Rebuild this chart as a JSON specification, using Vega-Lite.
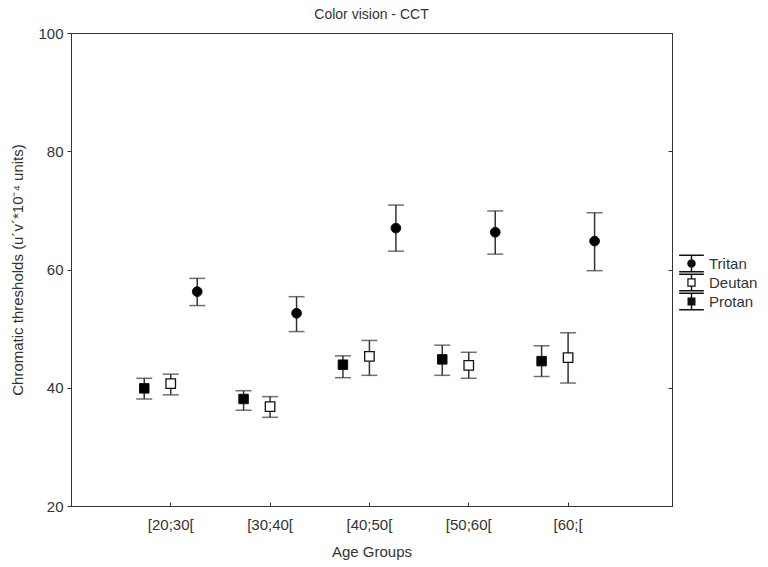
{
  "$schema": "https://vega.github.io/schema/vega-lite/v6.json",
  "width": 601,
  "height": 473,
  "autosize": {"type": "none"},
  "padding": {"left": 71, "top": 33, "right": 96, "bottom": 61},
  "background": "white",
  "title": {"text": "Color vision - CCT", "fontSize": 14, "fontWeight": "normal", "font": "Liberation Sans", "color": "#333", "offset": 4, "anchor": "middle"},
  "config": {
    "view": {"stroke": "#333", "strokeWidth": 1},
    "font": "Liberation Sans",
    "axis": {"grid": false, "domainColor": "#333", "tickColor": "#333", "labelColor": "#333", "titleColor": "#333", "labelFontSize": 15, "titleFontSize": 15, "titleFontWeight": "normal", "labelFont": "Liberation Sans", "titleFont": "Liberation Sans"}
  },
  "data": {"values": [
    {"group": "[20;30[", "type": "Protan", "mean": 39.9, "lo": 38.1, "hi": 41.6},
    {"group": "[20;30[", "type": "Deutan", "mean": 40.7, "lo": 38.8, "hi": 42.3},
    {"group": "[20;30[", "type": "Tritan", "mean": 56.25, "lo": 53.9, "hi": 58.5},
    {"group": "[30;40[", "type": "Protan", "mean": 38.1, "lo": 36.2, "hi": 39.5},
    {"group": "[30;40[", "type": "Deutan", "mean": 36.8, "lo": 35.0, "hi": 38.5},
    {"group": "[30;40[", "type": "Tritan", "mean": 52.6, "lo": 49.5, "hi": 55.4},
    {"group": "[40;50[", "type": "Protan", "mean": 43.9, "lo": 41.7, "hi": 45.4},
    {"group": "[40;50[", "type": "Deutan", "mean": 45.3, "lo": 42.1, "hi": 48.0},
    {"group": "[40;50[", "type": "Tritan", "mean": 67.0, "lo": 63.1, "hi": 70.9},
    {"group": "[50;60[", "type": "Protan", "mean": 44.8, "lo": 42.1, "hi": 47.2},
    {"group": "[50;60[", "type": "Deutan", "mean": 43.8, "lo": 41.6, "hi": 46.0},
    {"group": "[50;60[", "type": "Tritan", "mean": 66.3, "lo": 62.6, "hi": 69.9},
    {"group": "[60;[", "type": "Protan", "mean": 44.5, "lo": 41.9, "hi": 47.1},
    {"group": "[60;[", "type": "Deutan", "mean": 45.1, "lo": 40.8, "hi": 49.3},
    {"group": "[60;[", "type": "Tritan", "mean": 64.8, "lo": 59.8, "hi": 69.6}
  ]},
  "encoding": {
    "x": {"field": "group", "type": "nominal", "sort": ["[20;30[", "[30;40[", "[40;50[", "[50;60[", "[60;["],
      "scale": {"paddingInner": 0, "paddingOuter": 0.525, "align": 0.48},
      "axis": {"title": "Age Groups", "labelAngle": 0, "tickSize": -4, "labelPadding": 15, "titlePadding": 12}},
    "xOffset": {"field": "type", "type": "nominal", "sort": ["Protan", "Deutan", "Tritan"],
      "scale": {"paddingInner": 0, "paddingOuter": 0.375}}
  },
  "layer": [
    {"mark": {"type": "rule", "stroke": "#333", "strokeWidth": 1.5},
     "encoding": {
       "y": {"field": "lo", "type": "quantitative", "scale": {"domain": [20, 100]},
         "axis": {"orient": "left", "values": [20, 40, 60, 80, 100], "tickSize": 4, "labelPadding": 4, "title": "Chromatic thresholds (u´v´*10⁻⁴ units)", "titlePadding": 12}},
       "y2": {"field": "hi"}}},
    {"mark": {"type": "tick", "orient": "horizontal", "size": 16, "thickness": 1.5, "color": "#333"},
     "encoding": {"y": {"field": "hi", "type": "quantitative", "axis": null}}},
    {"mark": {"type": "tick", "orient": "horizontal", "size": 16, "thickness": 1.5, "color": "#333"},
     "encoding": {"y": {"field": "lo", "type": "quantitative", "axis": null}}},
    {"transform": [{"filter": "datum.type === 'Tritan'"}],
     "mark": {"type": "point", "shape": "circle", "filled": true, "fill": "#000", "size": 95, "stroke": "#111", "strokeWidth": 1, "opacity": 1},
     "encoding": {
       "y": {"field": "mean", "type": "quantitative",
         "axis": {"orient": "right", "values": [20, 40, 60, 80, 100], "tickSize": -4, "labels": false, "title": null}}}},
    {"transform": [{"filter": "datum.type === 'Deutan'"}],
     "mark": {"type": "point", "shape": "square", "filled": true, "fill": "#fff", "size": 90, "stroke": "#111", "strokeWidth": 1.3, "opacity": 1},
     "encoding": {"y": {"field": "mean", "type": "quantitative", "axis": null}}},
    {"transform": [{"filter": "datum.type === 'Protan'"}],
     "mark": {"type": "point", "shape": "square", "filled": true, "fill": "#000", "size": 90, "stroke": "#111", "strokeWidth": 1, "opacity": 1},
     "encoding": {"y": {"field": "mean", "type": "quantitative", "axis": null}}},
    {"transform": [{"filter": "false"}],
     "mark": {"type": "point", "filled": true, "color": "#111", "size": 361, "opacity": 1},
     "encoding": {
       "y": {"field": "mean", "type": "quantitative", "axis": null},
       "shape": {"field": "type", "type": "nominal",
         "scale": {"domain": ["Tritan", "Deutan", "Protan"], "range": [
           "M-1.3,-0.95H1.3V-0.8H-1.3ZM-1.3,0.8H1.3V0.95H-1.3ZM-0.075,-0.8H0.075V-0.4H-0.075ZM-0.075,0.4H0.075V0.8H-0.075ZM0.45,0A0.45,0.45,0,1,1,-0.45,0A0.45,0.45,0,1,1,0.45,0Z",
           "M-1.3,-0.95H1.3V-0.8H-1.3ZM-1.3,0.8H1.3V0.95H-1.3ZM-0.075,-0.8H0.075V-0.44H-0.075ZM-0.075,0.44H0.075V0.8H-0.075ZM-0.44,-0.44H0.44V0.44H-0.44ZM-0.31,-0.31V0.31H0.31V-0.31Z",
           "M-1.3,-0.95H1.3V-0.8H-1.3ZM-1.3,0.8H1.3V0.95H-1.3ZM-0.075,-0.8H0.075V-0.42H-0.075ZM-0.075,0.42H0.075V0.8H-0.075ZM-0.42,-0.42H0.42V0.42H-0.42Z"]},
         "legend": {"title": null, "orient": "none", "legendX": 611, "legendY": 221, "padding": 0, "rowPadding": -5,
           "labelFontSize": 15, "labelColor": "#333", "labelFont": "Liberation Sans", "labelOffset": 8,
           "symbolFillColor": "#111", "symbolStrokeWidth": 0, "symbolSize": 361, "symbolOpacity": 1}}
     }}
  ],
  "resolve": {"axis": {"y": "independent"}}
}
